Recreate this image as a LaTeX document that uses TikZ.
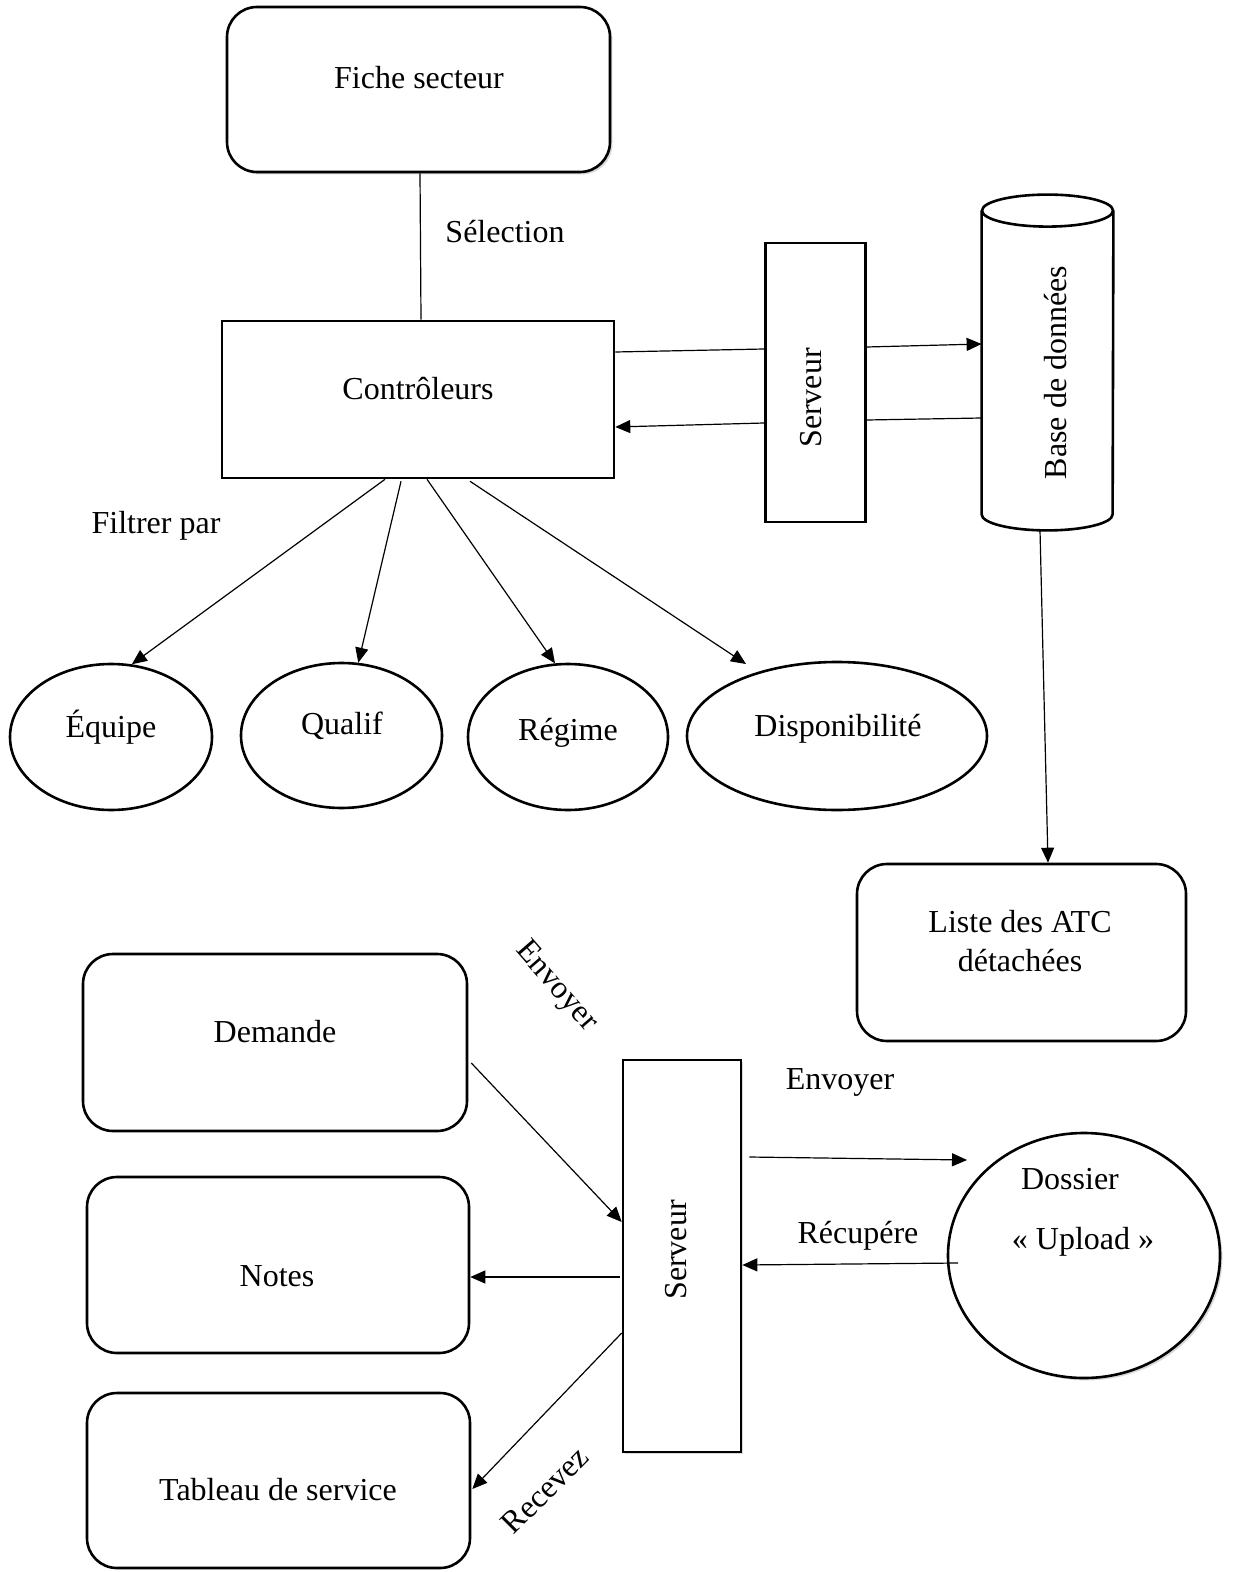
\documentclass[tikz,border=0pt]{standalone}
\usepackage{fontspec}
\setmainfont{Liberation Serif}
\usetikzlibrary{arrows.meta,shapes.geometric,shadows}
\begin{document}
\begin{tikzpicture}[x=0.5pt,y=-0.5pt,
  font=\fontsize{16}{19}\selectfont,
  box/.style={draw, line width=1.3pt, inner sep=0pt, fill=white},
  rbox/.style={box, rounded corners=15pt},
  oval/.style={draw, ellipse, line width=1.3pt, inner sep=0pt, fill=white},
  txt/.style={anchor=base, inner sep=0pt},
  link/.style={line width=0.6pt},
  arr/.style={link, -{Triangle[length=7.5pt,width=6.5pt]}},
  shade/.style={drop shadow={shadow xshift=1.2pt, shadow yshift=-1.2pt, opacity=0.3}}
]
\fill[white] (0,0) rectangle (1234,1572);
\useasboundingbox (0,0) rectangle (1234,1572);

% ---------- upper part ----------
\node[rbox, shade, minimum width=191.5pt, minimum height=82.5pt] (fiche) at (418.5,89.5) {};
\node[txt] (fiche-t) at (419,89) {Fiche secteur};

\node[box, minimum width=196pt, minimum height=78.5pt] (ctrl) at (418,399.5) {};
\node[txt] (ctrl-t) at (418,400) {Contrôleurs};

\node[box, minimum width=50pt, minimum height=139.5pt] (srv1) at (815.5,382.5) {};
\node[rotate=90] (srv1-t) at (811,398) {Serveur};

% database cylinder
\node[minimum width=65.5pt, minimum height=151.5pt, inner sep=0pt] (db) at (1047.5,362.5) {};
\draw[line width=1.3pt, fill=white] (db.north west) -- (db.south west)
  arc[start angle=180, end angle=360, x radius=32.75pt, y radius=8pt] -- (db.north east);
\draw[line width=1.3pt, fill=white] (db.north) ellipse [x radius=32.75pt, y radius=8pt];
\node[rotate=90] (db-t) at (1056,372.5) {Base de données};

\node[rbox, minimum width=164.5pt, minimum height=88.5pt] (liste) at (1021.5,952.5) {};
\node[txt] (liste-t1) at (1020,932) {Liste des ATC};
\node[txt] (liste-t2) at (1020,971) {détachées};

\node[oval, minimum width=101pt, minimum height=73pt] (equipe) at (111,737) {};
\node[txt] (equipe-t) at (111,737) {Équipe};
\node[oval, minimum width=100.5pt, minimum height=72.5pt] (qualif) at (341.5,735.5) {};
\node[txt] (qualif-t) at (342,734) {Qualif};
\node[oval, minimum width=100pt, minimum height=73pt] (regime) at (568,737) {};
\node[txt] (regime-t) at (568,740) {Régime};
\node[oval, minimum width=150pt, minimum height=74pt] (dispo) at (837,736) {};
\node[txt] (dispo-t) at (838,736) {Disponibilité};

\node[txt] (sel) at (505,243) {Sélection};
\node[txt] (filtrer) at (156,533) {Filtrer par};

\draw[link] ([xshift=0.75pt]fiche.south) -- ([xshift=1.5pt]ctrl.north);
\draw[link] ([yshift=23.75pt]ctrl.east) -- ([yshift=16.75pt]srv1.west);
\draw[arr] ([yshift=17.75pt]srv1.east) -- ([yshift=9.25pt]db.west);
\draw[link] ([yshift=-27.75pt]db.west) -- ([yshift=-18.75pt]srv1.east);
\draw[arr] ([yshift=-20.25pt]srv1.west) -- ([yshift=-13.75pt]ctrl.east);
\draw[arr] ([xshift=-3.75pt,yshift=-8pt]db.south) -- ([xshift=13.25pt]liste.north);

\draw[arr] ([xshift=-16.5pt]ctrl.south) -- (equipe.74);
\draw[arr] ([xshift=-8.5pt,yshift=-1pt]ctrl.south) -- (qualif.77);
\draw[arr] ([xshift=4.5pt]ctrl.south) -- (regime.100);
\draw[arr] ([xshift=26pt,yshift=-1pt]ctrl.south) -- ([xshift=-45.5pt,yshift=36pt]dispo.center);

% ---------- lower part ----------
\node[rbox, minimum width=192pt, minimum height=88.5pt] (demande) at (275,1042.5) {};
\node[txt] (demande-t) at (275,1042) {Demande};
\node[rbox, minimum width=191pt, minimum height=88pt] (notes) at (278,1265) {};
\node[txt] (notes-t) at (277,1286) {Notes};
\node[rbox, minimum width=191.5pt, minimum height=87.5pt] (tableau) at (278.5,1480.5) {};
\node[txt] (tableau-t) at (278,1500) {Tableau de service};

\node[box, shade, minimum width=59pt, minimum height=196pt] (srv2) at (682,1256) {};
\node[rotate=90] (srv2-t) at (676,1250) {Serveur};

\node[oval, shade, minimum width=136pt, minimum height=122.5pt] (dossier) at (1084,1255.5) {};
\node[txt] (dossier-t1) at (1070,1189) {Dossier};
\node[txt] (dossier-t2) at (1083,1249) {«~Upload~»};

\node[txt] (env1) at (840,1089) {Envoyer};
\node[txt] (recup) at (858,1243) {Récupére};
\node[rotate=-49] (env2) at (556,987) {Envoyer};
\node[rotate=45] (recv) at (545,1490) {Recevez};

\draw[arr] ([xshift=1.5pt,yshift=-10.25pt]demande.east) -- ([yshift=17pt]srv2.west);
\draw[arr] ([xshift=3.5pt,yshift=49.5pt]srv2.east) -- ([xshift=-58.5pt,yshift=47.75pt]dossier.center);
\draw[arr] ([xshift=-63pt,yshift=-3.75pt]dossier.center) -- ([yshift=-4.5pt]srv2.east);
\draw[arr] ([xshift=-1pt,yshift=-10.5pt]srv2.west) -- ([yshift=-6pt]notes.east);
\draw[arr] ([yshift=-38.5pt]srv2.west) -- ([xshift=0.5pt,yshift=-4.25pt]tableau.east);
\end{tikzpicture}
\end{document}
